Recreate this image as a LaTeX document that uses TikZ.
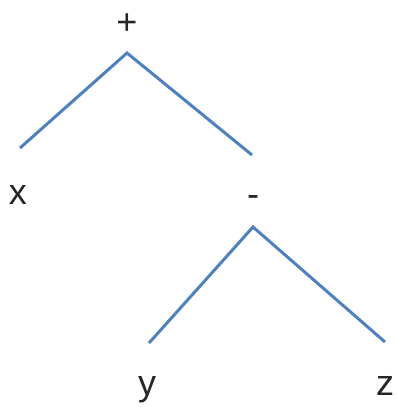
\documentclass[tikz,border=0pt]{standalone}
\usepackage{fontspec}
\setmainfont{Liberation Sans}
\definecolor{edgeblue}{RGB}{79,129,189}
\begin{document}
\begin{tikzpicture}[x=1pt,y=-1pt,
  lbl/.style={anchor=base,inner sep=0pt,font=\fontsize{36}{40}\selectfont,text=black!85},
  edge/.style={draw=edgeblue,line width=3pt}]
\useasboundingbox[fill=white] (0,0) rectangle (397,407);
\node[lbl] (plus) at (127,34) {+};
\node[lbl] (x) at (18,204) {x};
\node[lbl] (minus) at (253,206) {-};
\node[lbl] (y) at (147,395) {y};
\node[lbl] (z) at (385,395) {z};
\coordinate (apex1) at (127,53);
\coordinate (xe) at (20,148);
\coordinate (me) at (252,155);
\coordinate (apex2) at (253,227);
\coordinate (ye) at (149,343);
\coordinate (ze) at (385,342);
\draw[edge] (xe) -- (apex1) -- (me);
\draw[edge] (ye) -- (apex2) -- (ze);
\end{tikzpicture}
\end{document}
